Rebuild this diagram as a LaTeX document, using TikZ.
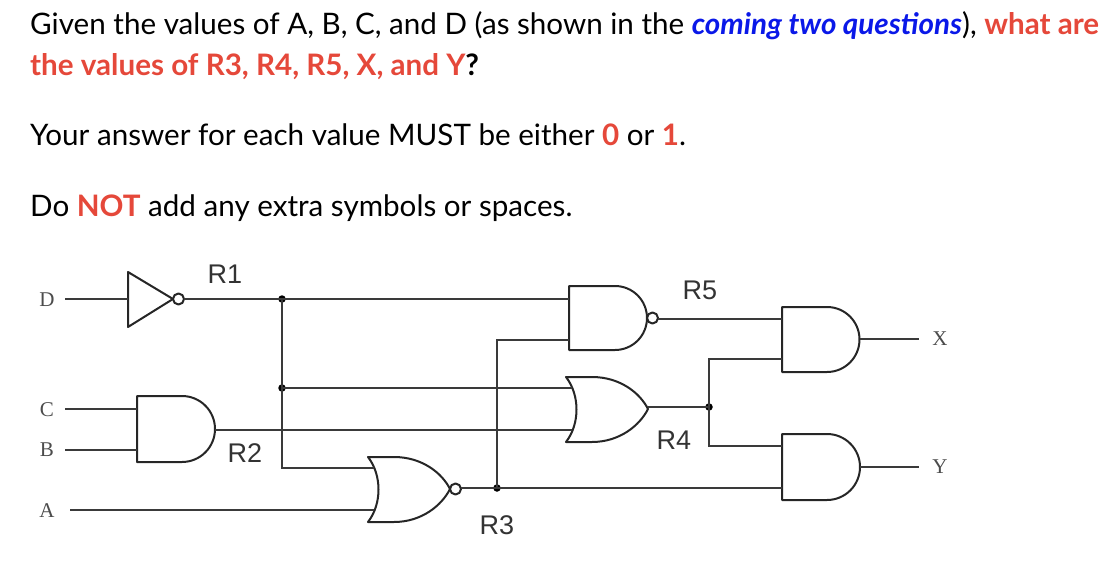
\documentclass[tikz,border=0pt]{standalone}
\usepackage{fontspec}
\setmainfont{Lato}
\newfontfamily\rfont{Liberation Sans}
\newfontfamily\sfont{Liberation Serif}
\definecolor{qred}{HTML}{E5483A}
\definecolor{qblue}{HTML}{0A18E8}
\definecolor{wire}{HTML}{3A3A3A}
\begin{document}
\begin{tikzpicture}[x=1pt,y=-1pt,
  txt/.style={anchor=base west,inner sep=0pt,font=\fontsize{29.6}{32}\selectfont},
  w/.style={draw=wire,line width=1.6pt},
  g/.style={draw=black!85,line width=2pt,line join=round},
  dotn/.style={circle,fill=black,inner sep=0pt,minimum size=7.5pt},
  inl/.style={inner sep=0pt,font=\sfont\fontsize{21}{21}\selectfont,text=black!70},
  rl/.style={inner sep=0pt,font=\rfont\fontsize{27}{27}\selectfont,text=black!80}]
\useasboundingbox (0,0) rectangle (1117,567);
% text
\node[txt] (t1) at (30,35) {Given the values of A, B, C, and D (as shown in the \textcolor{qblue}{\textbf{\textit{coming two questions}}}), \textcolor{qred}{\textbf{what are}}};
\node[txt] (t2) at (30,76) {\textbf{\textcolor{qred}{the values of R3, R4, R5, X, and Y}?}};
\node[txt] (t3) at (30,146) {Your answer for each value MUST be either \textcolor{qred}{\textbf{0}} or \textcolor{qred}{\textbf{1}}.};
\node[txt] (t4) at (30,216) {Do \textcolor{qred}{\textbf{NOT}} add any extra symbols or spaces.};
% input labels
\node[inl] (D) at (47,300) {D};
\node[inl] (C) at (47,410) {C};
\node[inl] (B) at (47,450) {B};
\node[inl] (A) at (47,511) {A};
\node[inl] (X) at (940,339) {X};
\node[inl] (Y) at (940,467) {Y};
% gate labels
\node[rl] at (225,274) {R1};
\node[rl] at (245,453) {R2};
\node[rl] at (497,525) {R3};
\node[rl] at (674,440) {R4};
\node[rl] at (700,290) {R5};
% NOT gate
\draw[g] (128,272) -- (173,299) -- (128,327) -- cycle;
\draw[g] (178.5,299) circle[radius=5.5];
% AND R2
\draw[g] (137,396) -- (182,396) arc[start angle=-90,end angle=90,radius=33] -- (137,462) -- cycle;
% NAND R5
\draw[g] (569,286) -- (615,286) arc[start angle=-90,end angle=90,radius=32] -- (569,350) -- cycle;
\draw[g] (652.5,318) circle[radius=5.5];
% AND X
\draw[g] (782,307) -- (827,307) arc[start angle=-90,end angle=90,radius=32.5] -- (782,372) -- cycle;
% AND Y
\draw[g] (782,434) -- (827,434) arc[start angle=-90,end angle=90,radius=33] -- (782,500) -- cycle;
% OR R4
\draw[g] (566,377) .. controls (580,395) and (580,424) .. (566,442)
  -- (592,442) .. controls (620,442) and (640,425) .. (648,409)
  .. controls (640,393) and (620,377) .. (592,377) -- cycle;
% NOR R3
\draw[g] (368,457) .. controls (382,475) and (382,504) .. (368,522)
  -- (394,522) .. controls (422,522) and (442,505) .. (450,489)
  .. controls (442,473) and (422,457) .. (394,457) -- cycle;
\draw[g] (455.5,489) circle[radius=5.5];
% pins
\coordinate (dIn) at (65,299); \coordinate (notIn) at (128,299); \coordinate (r1o) at (184,299);
\coordinate (cIn) at (65,409); \coordinate (andC) at (137,409);
\coordinate (bIn) at (65,450); \coordinate (andB) at (137,450);
\coordinate (r2o) at (215,430); \coordinate (orB) at (572,430);
\coordinate (aIn) at (70,510); \coordinate (norB) at (374,510);
\coordinate (norA) at (374,468);
\coordinate (orA) at (572,388);
\coordinate (nandA) at (569,299); \coordinate (nandB) at (569,340);
\coordinate (r5o) at (658,319); \coordinate (xA) at (782,319); \coordinate (xB) at (782,359);
\coordinate (r4o) at (648,407); \coordinate (yA) at (782,446); \coordinate (yB) at (782,488);
\coordinate (r3o) at (461,488);
\coordinate (xo) at (860,339); \coordinate (xe) at (919,339);
\coordinate (yo) at (860,467); \coordinate (ye) at (919,467);
\node[dotn] (j1) at (282,299) {};
\node[dotn] (j2) at (282,388) {};
\node[dotn] (j3) at (497,488) {};
\node[dotn] (j4) at (709,407) {};
% wires
\draw[w] (dIn) -- (notIn);
\draw[w] (r1o) -- (j1.center) -- (nandA);
\draw[w] (j1.center) -- (j2.center) |- (norA);
\draw[w] (j2.center) -- (orA);
\draw[w] (cIn) -- (andC);
\draw[w] (bIn) -- (andB);
\draw[w] (r2o) -- (orB);
\draw[w] (aIn) -- (norB);
\draw[w] (r3o) -- (j3.center) -- (yB);
\draw[w] (j3.center) |- (nandB);
\draw[w] (r5o) -- (xA);
\draw[w] (r4o) -- (j4.center) |- (xB);
\draw[w] (j4.center) |- (yA);
\draw[w] (xo) -- (xe);
\draw[w] (yo) -- (ye);
\end{tikzpicture}
\end{document}
